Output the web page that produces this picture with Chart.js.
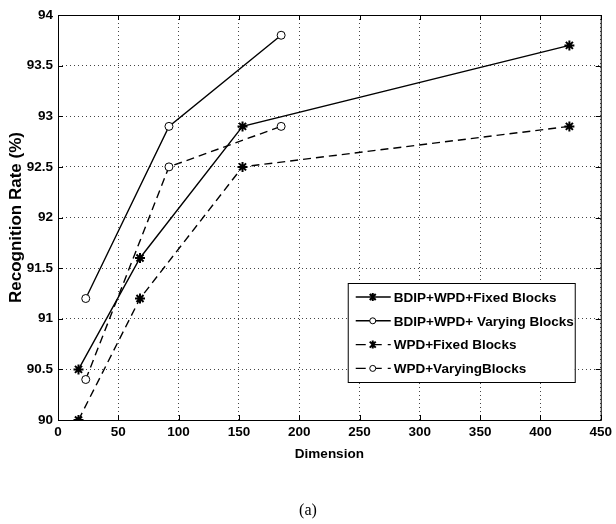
<!DOCTYPE html>
<html lang="en">
<head>
<meta charset="UTF-8">
<title>Recognition Rate vs Dimension</title>
<script src="https://cdn.jsdelivr.net/npm/chart.js@4"></script>
<style>
    body { margin: 0; background: #fff; }
    #wrap { position: relative; width: 616px; height: 524px; }
    #caption {
        position: absolute; left: 0; width: 616px; top: 501px;
        text-align: center; font-family: "Liberation Serif", serif; font-size: 16px;
    }
</style>
</head>
<body>
<div id="wrap">
    <canvas id="chart" width="616" height="524"></canvas>
    <div id="caption">(a)</div>
</div>
<script>
    // values
    const fixedDims = [17, 68, 153, 424];
    const varyingDims = [23, 92, 185];
    const bdipFixed = [90.5, 91.6, 92.9, 93.7];
    const bdipVarying = [91.2, 92.9, 93.8];
    const wpdFixed = [90.0, 91.2, 92.5, 92.9];
    const wpdVarying = [90.4, 92.5, 92.9];
    const seriesNames = ["BDIP+WPD+Fixed Blocks", "BDIP+WPD+ Varying Blocks", "WPD+Fixed Blocks", "WPD+VaryingBlocks"];

    function pts(xs, ys) {
        return xs.map((x, i) => ({ x: x, y: ys[i] }));
    }

    const sans = "'Liberation Sans', Arial, sans-serif";
    const tickFont = { family: sans, size: 13.5, weight: "bold" };
    const dash = [8, 5];

    function makeSet(label, data, style, dashed) {
        return {
            label: label,
            data: data,
            borderColor: "#000",
            borderWidth: 1.4,
            borderDash: dashed ? dash : [],
            pointStyle: style,
            pointRadius: style === "circle" ? 4 : 5,
            pointBorderWidth: style === "circle" ? 1 : 2,
            pointBackgroundColor: "#fff",
            pointBorderColor: "#000",
            tension: 0,
            fill: false
        };
    }

    // box, inward ticks and legend box like the matlab figure
    const boxPlugin = {
        id: "box",
        afterDatasetsDraw(chart) {
            const ctx = chart.ctx;
            const a = chart.chartArea;
            ctx.save();
            ctx.strokeStyle = "#000";
            ctx.lineWidth = 1;
            ctx.setLineDash([]);
            ctx.strokeRect(a.left + 0.5, a.top + 0.5, a.right - a.left, a.bottom - a.top);
            const xs = chart.scales.x, ys = chart.scales.y;
            ctx.beginPath();
            xs.ticks.forEach(t => {
                const px = Math.round(xs.getPixelForValue(t.value)) + 0.5;
                ctx.moveTo(px, a.bottom); ctx.lineTo(px, a.bottom - 5);
                ctx.moveTo(px, a.top); ctx.lineTo(px, a.top + 5);
            });
            ys.ticks.forEach(t => {
                const py = Math.round(ys.getPixelForValue(t.value)) + 0.5;
                ctx.moveTo(a.left, py); ctx.lineTo(a.left + 5, py);
                ctx.moveTo(a.right, py); ctx.lineTo(a.right - 5, py);
            });
            ctx.stroke();

            // legend
            const bx = a.right - 253, by = a.bottom - 137, bw = 227, bh = 99;
            ctx.fillStyle = "#fff";
            ctx.fillRect(bx, by, bw, bh);
            ctx.strokeRect(bx + 0.5, by + 0.5, bw, bh);
            ctx.font = "bold 13.5px " + sans;
            ctx.textBaseline = "middle";
            chart.data.datasets.forEach((ds, i) => {
                const y = by + 14 + i * 23.8;
                ctx.strokeStyle = "#000";
                ctx.lineWidth = 1.4;
                ctx.setLineDash(ds.borderDash.length ? [10, 6] : []);
                ctx.beginPath();
                ctx.moveTo(bx + 8, y); ctx.lineTo(bx + 43, y);
                ctx.stroke();
                ctx.setLineDash([]);
                ctx.lineWidth = 1;
                const cx = bx + 25;
                if (ds.pointStyle === "circle") {
                    ctx.beginPath();
                    ctx.arc(cx, y, 3, 0, Math.PI * 2);
                    ctx.fillStyle = "#fff";
                    ctx.fill();
                    ctx.stroke();
                } else {
                    ctx.lineWidth = 2;
                    ctx.beginPath();
                    ctx.moveTo(cx, y - 4); ctx.lineTo(cx, y + 4);
                    ctx.moveTo(cx - 3, y - 3); ctx.lineTo(cx + 3, y + 3);
                    ctx.moveTo(cx + 3, y - 3); ctx.lineTo(cx - 3, y + 3);
                    ctx.stroke();
                }
                ctx.fillStyle = "#000";
                ctx.fillText(ds.label, bx + 46, y + 1);
            });
            ctx.restore();
        }
    };

    new Chart(document.getElementById("chart"), {
        type: "line",
        data: {
            datasets: [
                makeSet(seriesNames[0], pts(fixedDims, bdipFixed), "star", false),
                makeSet(seriesNames[1], pts(varyingDims, bdipVarying), "circle", false),
                makeSet(seriesNames[2], pts(fixedDims, wpdFixed), "star", true),
                makeSet(seriesNames[3], pts(varyingDims, wpdVarying), "circle", true)
            ]
        },
        options: {
            responsive: false,
            animation: false,
            layout: { padding: { left: 0, top: 15, right: 10, bottom: 62 } },
            plugins: { legend: { display: false }, tooltip: { enabled: false } },
            scales: {
                x: {
                    type: "linear",
                    min: 0, max: 450,
                    ticks: { stepSize: 50, color: "#000", font: tickFont, padding: 4, maxRotation: 0 },
                    grid: { color: "#444", lineWidth: 1, drawTicks: false },
                    border: { display: false, dash: [1, 3] },
                    title: { display: true, text: "Dimension", color: "#000", font: { family: sans, size: 13.5, weight: "bold" }, padding: 0 },
                    afterFit(s) { s.height = 42; }
                },
                y: {
                    min: 90, max: 94,
                    ticks: {
                        stepSize: 0.5, color: "#000", font: tickFont, padding: 5,
                        callback: v => String(Number(v.toFixed(1)))
                    },
                    grid: { color: "#444", lineWidth: 1, drawTicks: false },
                    border: { display: false, dash: [1, 3] },
                    title: { display: true, text: "Recognition Rate (%)", color: "#000", font: { family: sans, size: 17, weight: "bold" }, padding: { top: 6, bottom: 0 } },
                    afterFit(s) { s.width = 58; }
                }
            }
        },
        plugins: [boxPlugin]
    });
</script>
</body>
</html>
